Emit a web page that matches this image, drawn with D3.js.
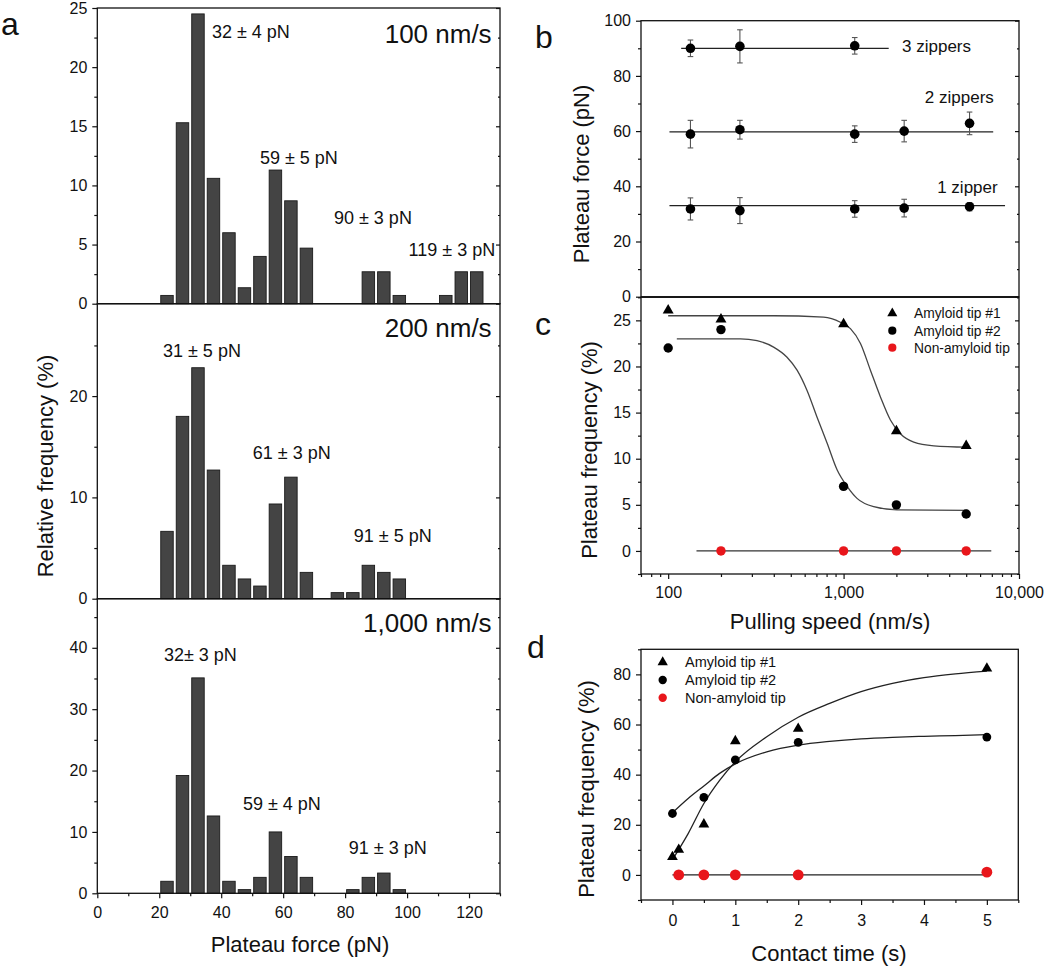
<!DOCTYPE html>
<html><head><meta charset="utf-8">
<script src="https://cdn.jsdelivr.net/npm/d3@7"></script>
<style>
body{margin:0;background:#fff}
text{font-family:"Liberation Sans",Arial,Helvetica,sans-serif;fill:#111}
</style>
</head><body>
<svg id="fig" width="1050" height="974"></svg>
<script>
// ================= DATA =================
// Panel a: histogram bins (left edge, pN) and relative frequencies (%)
const forceBins = [20,25,30,35,40,45,50,55,60,65,70,75,80,85,90,95,100,105,110,115,120];
const freq100  = [0.7,15.3,24.5,10.6,6.0,1.35,4.0,11.3,8.7,4.7,0,0,0,2.7,2.7,0.7,0,0,0.7,2.7,2.7];
const freq200  = [6.65,18.0,22.8,12.7,3.3,1.95,1.25,9.35,12.0,2.6,0,0.6,0.6,3.3,2.6,1.95,0,0,0,0,0];
const freq1000 = [1.96,19.2,35.1,12.6,1.96,0.6,2.6,10.0,6.0,2.6,0,0,0.6,2.6,3.3,0.6,0,0,0,0,0];
const aXTicks = [0,20,40,60,80,100,120];
const aXMinor = [10,30,50,70,90,110,130];
const aTopTicks = [0,5,10,15,20,25], aTopMinor = [2.5,7.5,12.5,17.5,22.5];
const aMidTicks = [0,10,20], aMidMinor = [5,15,25];
const aBotTicks = [0,10,20,30,40], aBotMinor = [5,15,25,35,45];
const speedLabels = ["100 nm/s","200 nm/s","1,000 nm/s"];
const peak100 = ["32 \u00b1 4 pN","59 \u00b1 5 pN","90 \u00b1 3 pN","119 \u00b1 3 pN"];
const peak100Pos = [[37.0,22.5],[52.5,11.8],[76.4,6.7],[100.5,4.0]];
const peak200 = ["31 \u00b1 5 pN","61 \u00b1 3 pN","91 \u00b1 5 pN"];
const peak200Pos = [[21.2,23.9],[50.2,13.8],[82.8,5.6]];
const peak1000 = ["32\u00b1 3 pN","59 \u00b1 4 pN","91 \u00b1 3 pN"];
const peak1000Pos = [[21.5,37.9],[47.0,13.5],[81.2,6.4]];
const speedLabelY = [22.0, 25.8, 42.6];

// Panel b: plateau force vs pulling speed
const bSpeeds = [100,200,1000,2000,5000];
const b1Zip = [31.8,31.2,31.8,32.1,32.6], b1Err = [4,4.7,3,3.2,1.5];
const b2Zip = [58.9,60.5,58.9,60.0,62.8], b2Err = [5,3.4,3,3.9,4.1];
const b3Speeds = [100,200,1000];
const b3Zip = [90.0,90.7,90.9], b3Err = [3,6,3];
const bFitLevel = [33.0,59.7,90.0];
const bFitRange = [[74.5,8222],[74.5,6966],[87.8,1610]];
const bLabels = ["1 zipper","2 zippers","3 zippers"];
const bLabelPos = [[3177,37.5],[2673,70.3],[1941,88.6]];
const bYTicks = [0,20,40,60,80,100], bYMinor = [10,30,50,70,90];

// Panel c: plateau frequency vs pulling speed
const cSpeeds = [100,200,1000,2000,5000];
const cTip1 = [26.1,25.1,24.6,13.0,11.4];
const cTip2 = [22.0,24.0,7.0,5.0,4.0];
const cNonSpeeds = [200,1000,2000,5000];
const cNon = [0,0,0,0];
const cNonLineX = [145,6950];
const cFit1Speed = [100,399,769,959,1094,1248,1422,1622,1849,2108,2512,3268,5066];
const cFit1Val   = [25.5,25.5,25.36,24.8,24.1,22.5,19.6,16.7,14.2,12.7,11.8,11.4,11.25];
const cFit2Speed = [112,258,321,399,476,543,619,706,805,918,1047,1193,1486,2018,5066];
const cFit2Val   = [23.0,23.0,22.8,22.1,21.0,19.6,17.4,14.5,11.7,8.8,7.0,5.7,4.8,4.45,4.4];
const cXTicks = [100,1000,10000];
const cXMinor = [70,80,90,200,300,400,500,600,700,800,900,2000,3000,4000,5000,6000,7000,8000,9000];
const cYTicks = [0,5,10,15,20,25], cYMinor = [-2.5,2.5,7.5,12.5,17.5,22.5,27.5];
const legendNames = ["Amyloid tip #1","Amyloid tip #2","Non-amyloid tip"];

// Panel d: plateau frequency vs contact time
const dT1 = [0,0.1,0.5,1,2,5], dTip1 = [7.2,10.1,20.2,53.4,58.3,82.4];
const dT2 = [0,0.5,1,2,5],     dTip2 = [24.5,30.9,45.9,52.9,55.0];
const dT3 = [0.1,0.5,1,2,5],   dNon  = [0,0,0,0,1.1];
const dFitT = [0,0.25,0.5,0.75,1,1.5,2,2.5,3,3.5,4,4.5,5];
const dFit1 = [6.1,16.5,28.5,37.7,45.1,55.1,62.9,68.4,73.1,76.4,78.7,80.2,81.3];
const dFit2 = [24.8,30.5,35.5,40.5,44.3,49.1,51.8,53.3,54.3,54.9,55.3,55.6,56.0];
const dNonLineX = [0,5];
const dXTicks = [0,1,2,3,4,5], dXMinor = [-0.5,0.5,1.5,2.5,3.5,4.5,5.5];
const dYTicks = [0,20,40,60,80], dYMinor = [-10,10,30,50,70,90];

// ================= DRAW =================
const svg = d3.select("#fig");
const INK = "#111", RED = "#e8161b";
const fmt = d3.format(",");

function frame(x0,y0,x1,y1){
  svg.append("rect").attr("x",x0).attr("y",y0).attr("width",x1-x0).attr("height",y1-y0)
    .attr("fill","none").attr("stroke",INK).attr("stroke-width",1.3);
}
function styleAxis(g){
  g.select(".domain").remove();
  g.selectAll("line").attr("stroke",INK).attr("stroke-width",1.2);
  g.selectAll("text").attr("font-size",16).attr("fill",INK)
    .attr("font-family",'"Liberation Sans",Arial,sans-serif');
}
function yAxis(scale,x,major,minor,rightX){
  const g = svg.append("g").attr("transform",`translate(${x},0)`)
    .call(d3.axisLeft(scale).tickValues(major).tickSize(5).tickPadding(5).tickFormat(fmt));
  styleAxis(g);
  const m = svg.append("g").attr("transform",`translate(${x},0)`)
    .call(d3.axisLeft(scale).tickValues(minor).tickSize(3).tickFormat(""));
  styleAxis(m);
  if(rightX!==undefined){
    const r = svg.append("g").attr("transform",`translate(${rightX},0)`)
      .call(d3.axisLeft(scale).tickValues(major).tickSize(4).tickFormat(""));
    styleAxis(r);
    const r2 = svg.append("g").attr("transform",`translate(${rightX},0)`)
      .call(d3.axisLeft(scale).tickValues(minor).tickSize(2).tickFormat(""));
    styleAxis(r2);
  }
}
function xAxis(scale,y,major,minor,pad){
  const g = svg.append("g").attr("transform",`translate(0,${y})`)
    .call(d3.axisBottom(scale).tickValues(major).tickSize(5).tickPadding(pad).tickFormat(fmt));
  styleAxis(g);
  const m = svg.append("g").attr("transform",`translate(0,${y})`)
    .call(d3.axisBottom(scale).tickValues(minor).tickSize(3).tickFormat(""));
  styleAxis(m);
}
function text(x,y,str,size,anchor,rot){
  const t = svg.append("text").attr("font-size",size).attr("text-anchor",anchor||"start").text(str);
  if(rot) t.attr("transform",`translate(${x},${y}) rotate(-90)`);
  else t.attr("x",x).attr("y",y);
  return t;
}

// ---------- Panel a ----------
const aL = 97.3, aR = 500;
const xA = d3.scaleLinear().domain([0,130]).range([aL,aR]);
const aPanels = [
  {vals:freq100, top:8,     bot:303.7, dom:25,   ticks:aTopTicks, minor:aTopMinor, peaks:peak100, pos:peak100Pos},
  {vals:freq200, top:303.7, bot:598.7, dom:29.12,ticks:aMidTicks, minor:aMidMinor, peaks:peak200, pos:peak200Pos},
  {vals:freq1000,top:598.7, bot:893.3, dom:48.0, ticks:aBotTicks, minor:aBotMinor, peaks:peak1000,pos:peak1000Pos}
];
aPanels.forEach((p,i)=>{
  const y = d3.scaleLinear().domain([0,p.dom]).range([p.bot,p.top]);
  const data = forceBins.map((b,j)=>({b, v:p.vals[j]})).filter(d=>d.v>0);
  svg.append("g").selectAll("rect").data(data).join("rect")
    .attr("x",d=>xA(d.b)+1.5)
    .attr("width",d=>xA(d.b+5)-xA(d.b)-3)
    .attr("y",d=>y(d.v))
    .attr("height",d=>y(0)-y(d.v))
    .attr("fill","#444").attr("stroke","#1a1a1a").attr("stroke-width",0.9);
  frame(aL,p.top,aR,p.bot);
  yAxis(y,aL,p.ticks,p.minor,aR);
  p.peaks.forEach((s,k)=>text(xA(p.pos[k][0]),y(p.pos[k][1]),s,18));
  text(xA(127.3),y(speedLabelY[i]),speedLabels[i],26,"end");
});
xAxis(xA,893.3,aXTicks,aXMinor,8);
text(300,951.7,"Plateau force (pN)",22,"middle");
text(52.7,466,"Relative frequency (%)",22,"middle",true);

// ---------- Panel b ----------
const pL = 641, pR = 1019;
const xB = d3.scaleLog().domain([50,10000]).range([pL,pR]);
const yB = d3.scaleLinear().domain([0,100]).range([296.7,20.7]);
frame(pL,20.7,pR,296.7);
yAxis(yB,pL,bYTicks,bYMinor,pR);
bFitLevel.forEach((lv,i)=>{
  svg.append("line").attr("x1",xB(bFitRange[i][0])).attr("x2",xB(bFitRange[i][1]))
    .attr("y1",yB(lv)).attr("y2",yB(lv)).attr("stroke","#222").attr("stroke-width",1.3);
});
function errPoints(xs,vals,errs){
  const g = svg.append("g");
  xs.forEach((s,i)=>{
    const cx = xB(s);
    g.append("line").attr("x1",cx).attr("x2",cx).attr("y1",yB(vals[i]-errs[i])).attr("y2",yB(vals[i]+errs[i]))
      .attr("stroke","#555").attr("stroke-width",1.1);
    [vals[i]-errs[i],vals[i]+errs[i]].forEach(e=>g.append("line")
      .attr("x1",cx-2.8).attr("x2",cx+2.8).attr("y1",yB(e)).attr("y2",yB(e))
      .attr("stroke","#555").attr("stroke-width",1.1));
    g.append("circle").attr("cx",cx).attr("cy",yB(vals[i])).attr("r",4.8).attr("fill","#000");
  });
}
errPoints(bSpeeds,b1Zip,b1Err);
errPoints(bSpeeds,b2Zip,b2Err);
errPoints(b3Speeds,b3Zip,b3Err);
bLabels.forEach((s,i)=>text(xB(bLabelPos[i][0]),yB(bLabelPos[i][1]),s,17));
text(589,174,"Plateau force (pN)",22,"middle",true);

// ---------- Panel c ----------
const xC = d3.scaleLog().domain([70,10000]).range([pL,pR]);
const yC = d3.scaleLinear().domain([-2.5,27.5]).range([574,297.3]);
frame(pL,297.3,pR,574);
yAxis(yC,pL,cYTicks,cYMinor,pR);
xAxis(xC,574,cXTicks,cXMinor,7.6);
const lineC = d3.line().x(d=>xC(d[0])).y(d=>yC(d[1])).curve(d3.curveMonotoneX);
svg.append("path").attr("d",lineC(cFit1Speed.map((s,i)=>[s,cFit1Val[i]])))
  .attr("fill","none").attr("stroke","#444").attr("stroke-width",1.3);
svg.append("path").attr("d",lineC(cFit2Speed.map((s,i)=>[s,cFit2Val[i]])))
  .attr("fill","none").attr("stroke","#444").attr("stroke-width",1.3);
svg.append("line").attr("x1",xC(cNonLineX[0])).attr("x2",xC(cNonLineX[1]))
  .attr("y1",yC(0)).attr("y2",yC(0)).attr("stroke","#333").attr("stroke-width",1.2);
const tri = d3.symbol().type(d3.symbolTriangle);
cSpeeds.forEach((s,i)=>svg.append("path").attr("d",tri.size(52)())
  .attr("transform",`translate(${xC(s)},${yC(cTip1[i])})`).attr("fill","#000"));
cSpeeds.forEach((s,i)=>svg.append("circle").attr("cx",xC(s)).attr("cy",yC(cTip2[i])).attr("r",4.7).attr("fill","#000"));
cNonSpeeds.forEach((s,i)=>svg.append("circle").attr("cx",xC(s)).attr("cy",yC(cNon[i])).attr("r",4.7).attr("fill",RED));
// legend
function legend(x,ys,tx,size,triSize,r){
  svg.append("path").attr("d",tri.size(triSize)()).attr("transform",`translate(${x},${ys[0]})`).attr("fill","#000");
  svg.append("circle").attr("cx",x).attr("cy",ys[1]).attr("r",r).attr("fill","#000");
  svg.append("circle").attr("cx",x).attr("cy",ys[2]).attr("r",r).attr("fill",RED);
  legendNames.forEach((s,i)=>text(tx,ys[i]+5,s,size));
}
legend(892.3,[313.3,330.7,347.7],914,13.8,44,4.1);
text(830,629,"Pulling speed (nm/s)",22,"middle");
text(597,450,"Plateau frequency (%)",22,"middle",true);

// ---------- Panel d ----------
const xD = d3.scaleLinear().domain([-0.5,5.5]).range([641,1018.3]);
const yD = d3.scaleLinear().domain([-10,90]).range([900,649.3]);
frame(641,649.3,1018.3,900);
yAxis(yD,641,dYTicks,dYMinor);
xAxis(xD,900,dXTicks,dXMinor,10);
const lineD = d3.line().x(d=>xD(d[0])).y(d=>yD(d[1])).curve(d3.curveMonotoneX);
svg.append("path").attr("d",lineD(dFitT.map((t,i)=>[t,dFit1[i]])))
  .attr("fill","none").attr("stroke","#222").attr("stroke-width",1.3);
svg.append("path").attr("d",lineD(dFitT.map((t,i)=>[t,dFit2[i]])))
  .attr("fill","none").attr("stroke","#222").attr("stroke-width",1.3);
svg.append("line").attr("x1",xD(dNonLineX[0])).attr("x2",xD(dNonLineX[1]))
  .attr("y1",yD(0)).attr("y2",yD(0)).attr("stroke","#222").attr("stroke-width",1.2);
dT1.forEach((t,i)=>svg.append("path").attr("d",tri.size(50)())
  .attr("transform",`translate(${xD(t)},${yD(dTip1[i])})`).attr("fill","#000"));
dT2.forEach((t,i)=>svg.append("circle").attr("cx",xD(t)).attr("cy",yD(dTip2[i])).attr("r",4.4).attr("fill","#000"));
dT3.forEach((t,i)=>svg.append("circle").attr("cx",xD(t)).attr("cy",yD(dNon[i])).attr("r",5.4).attr("fill",RED));
legend(662.7,[662.3,680,697.7],685,14.5,46,4.2);
text(829,961,"Contact time (s)",22,"middle");
text(594,789,"Plateau frequency (%)",22,"middle",true);

// ---------- Panel letters ----------
text(1,35,"a",32);
text(535,48,"b",32);
text(535,335,"c",32);
text(527,658,"d",32);
</script>
</body></html>
